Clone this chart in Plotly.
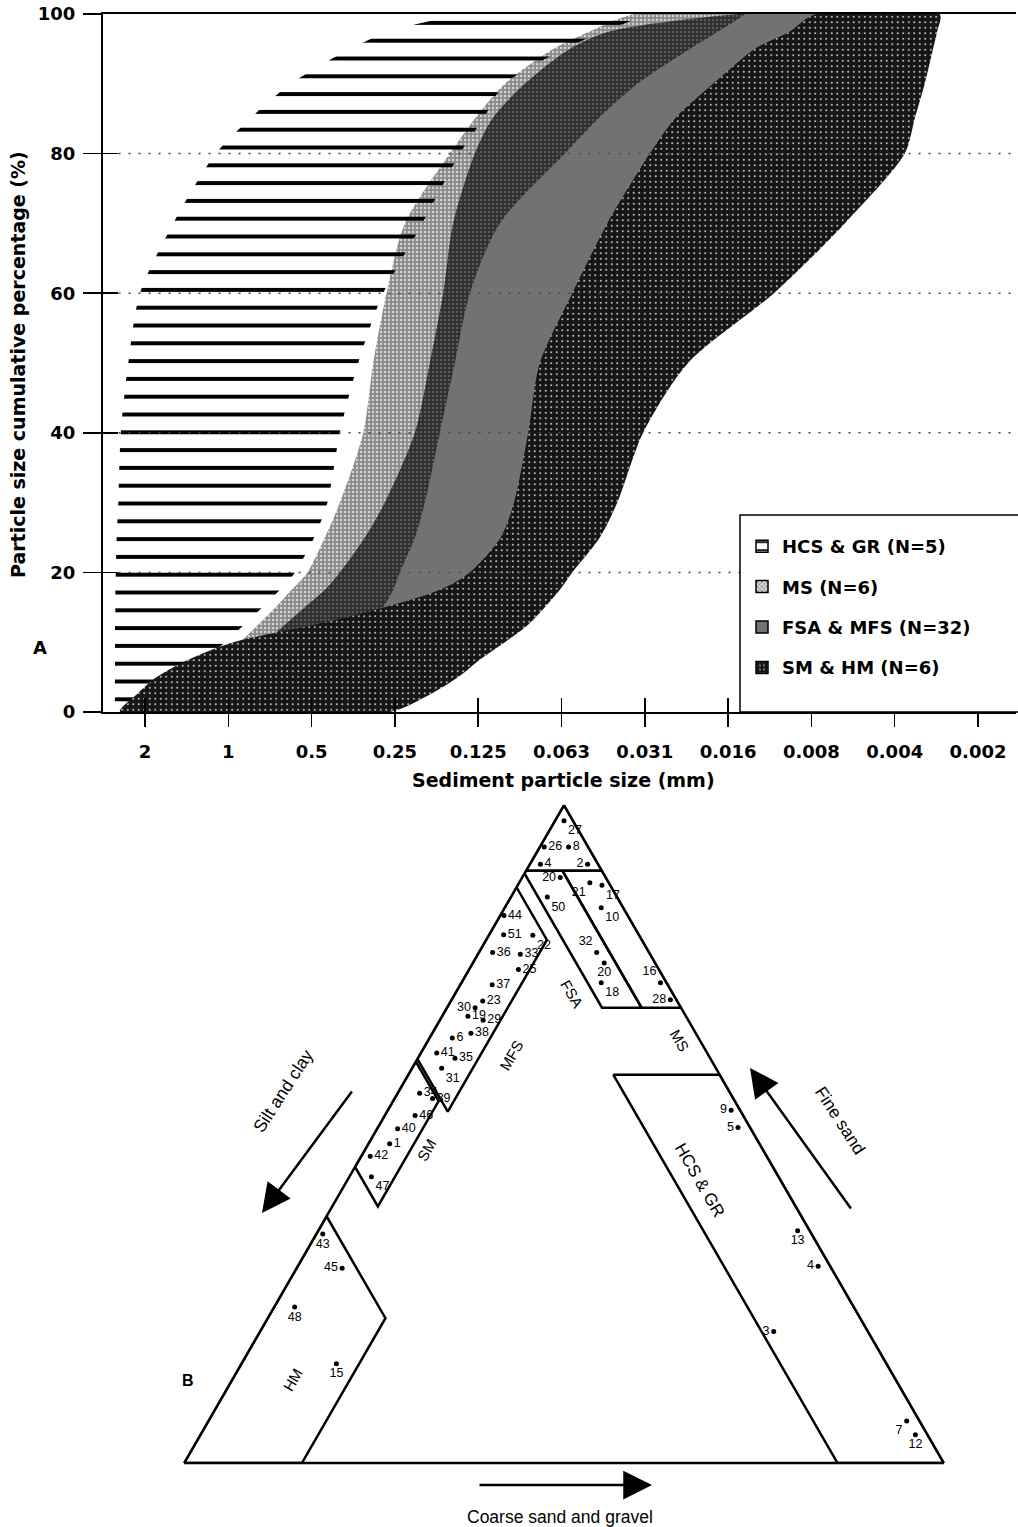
import plotly.graph_objects as go

W, H = 1018, 1527
FONT = "DejaVu Sans"
TFONT = "Liberation Sans"

# ---------------- Panel A: cumulative grain-size envelopes ----------------
# cumulative percentage levels
PCT = [0, 2.5, 5, 7.5, 10, 12.5, 15, 17.5, 20, 25, 30, 40, 50, 60, 70, 80, 85, 90, 95, 97.5, 100]
# particle size in phi units (phi = -log2(d, mm)); coarse and fine envelope of each group
HCS_COARSE = [-1.34, -1.36, -1.36, -1.36, -1.36, -1.36, -1.355, -1.355, -1.35, -1.34, -1.32,
              -1.29, -1.20, -1.06, -0.66, -0.15, 0.26, 0.75, 1.46, 1.94, 2.90]
HCS_FINE = [-0.94, -0.76, -0.52, -0.28, -0.04, 0.19, 0.41, 0.62, 0.80, 1.03, 1.19,
            1.34, 1.56, 1.86, 2.33, 2.78, 3.06, 3.32, 4.04, 4.50, 5.00]
MS_COARSE = [-0.64, -0.46, -0.28, -0.08, 0.14, 0.36, 0.57, 0.76, 0.95, 1.16, 1.34,
             1.62, 1.74, 1.90, 2.12, 2.66, 2.96, 3.32, 3.90, 4.34, 4.88]
MS_FINE = [0.80, 0.98, 1.16, 1.34, 1.52, 1.70, 1.86, 1.98, 2.06, 2.24, 2.36,
           2.54, 2.72, 2.90, 3.26, 4.04, 4.44, 4.91, 5.54, 5.88, 6.20]
FSA_COARSE = [-0.40, -0.22, -0.04, 0.20, 0.44, 0.68, 0.92, 1.16, 1.34, 1.64, 1.88,
              2.24, 2.42, 2.58, 2.70, 2.96, 3.17, 3.56, 4.10, 4.58, 6.14]
FSA_FINE = [0.6, 0.9, 1.2, 1.6, 2.0, 2.5, 2.9, 3.2, 3.5, 3.8, 4.0,
            4.2, 4.5, 5.2, 5.8, 6.4, 6.7, 7.0, 7.3, 7.6, 7.8]
SM_COARSE = [-1.30, -1.10, -0.86, -0.48, 0.06, 1.04, 1.88, 2.54, 2.90, 3.27, 3.43,
             3.60, 3.74, 4.13, 4.55, 5.06, 5.36, 5.82, 6.32, 6.74, 7.05]
SM_FINE = [1.94, 2.42, 2.76, 3.02, 3.32, 3.60, 3.80, 3.98, 4.13, 4.46, 4.67,
           4.98, 5.52, 6.55, 7.40, 8.12, 8.24, 8.36, 8.46, 8.51, 8.54]

GROUPS = ["HCS & GR (N=5)", "MS (N=6)", "FSA & MFS (N=32)", "SM & HM (N=6)"]

TICK_PHI = [-1, 0, 1, 2, 3, 4, 5, 6, 7, 8, 9]
TICK_MM = ["2", "1", "0.5", "0.25", "0.125", "0.063", "0.031", "0.016", "0.008", "0.004", "0.002"]
Y_TICKS = [0, 20, 40, 60, 80, 100]
GRID_Y = [20, 40, 60, 80]

# ---------------- Panel B: ternary diagram ----------------
# vertices as (fine sand, silt and clay, coarse sand and gravel) in %
REG_APEX = [(100, 0, 0), (90, 10, 0), (90, 0, 10)]
REG_MS = [(90, 0, 10), (90, 5.2, 4.8), (69.2, 5.2, 25.6), (69.2, 0, 30.8)]
REG_FSA = [(90, 10, 0), (90, 5.2, 4.8), (69.2, 5.2, 25.6), (69.2, 10.4, 20.4), (89.6, 10.4, 0)]
REG_MFS = [(87.5, 12.5, 0), (79.5, 12.5, 8), (53.4, 38.6, 8), (61.4, 38.6, 0)]
REG_SM = [(61, 39, 0), (55, 39, 6), (39, 55, 6), (45, 55, 0)]
REG_HM = [(37.5, 62.5, 0), (22, 62.5, 15.5), (0, 84.5, 15.5), (0, 100, 0)]
REG_HCS = [(59, 0, 41), (59, 14, 27), (0, 14, 86), (0, 0, 100)]

SAMPLE_ID = ["27", "26", "8", "4", "2", "20", "50", "21", "17", "10", "32", "20", "18", "16", "28",
             "44", "51", "22", "36", "33", "25", "37", "23", "30", "19", "29", "6", "38", "41", "35", "31",
             "34", "39", "46", "40", "1", "42", "47",
             "43", "45", "48", "15",
             "9", "5", "13", "4", "3", "7", "12"]
SAMPLE_FINE = [97.6, 93.6, 93.6, 91.0, 91.0, 89.0, 86.0, 88.2, 87.8, 84.4, 77.6, 76.0, 73.0, 73.0, 70.4,
               83.2, 80.3, 80.2, 77.6, 77.3, 75.0, 72.7, 70.2, 69.2, 67.9, 67.3, 64.6, 65.3, 62.3, 61.5, 60.0,
               56.2, 55.4, 52.8, 50.8, 48.5, 46.6, 43.5,
               34.8, 29.6, 23.7, 15.1,
               53.6, 51.0, 35.3, 29.9, 20.0, 6.4, 4.3]
SAMPLE_SILT = [1.2, 5.8, 2.6, 7.6, 1.4, 6.0, 9.2, 2.5, 1.1, 2.9, 6.9, 6.7, 8.6, 0.8, 0.8,
               16.3, 17.8, 14.0, 20.6, 17.1, 18.5, 23.1, 25.6, 27.1, 28.7, 27.0, 32.4, 29.6, 35.6, 33.6, 36.1,
               40.9, 39.6, 43.2, 46.5, 48.7, 52.2, 53.6,
               64.35, 64.4, 73.6, 72.4,
               1.2, 1.6, 1.6, 1.6, 12.4, 1.7, 1.6]
SAMPLE_COARSE = [1.2, 0.6, 3.8, 1.4, 7.6, 5.0, 4.8, 9.3, 11.1, 12.7, 15.5, 17.3, 18.4, 26.2, 28.8,
                 0.5, 1.9, 5.8, 1.8, 5.6, 6.5, 4.2, 4.2, 3.7, 3.4, 5.7, 3.0, 5.1, 2.1, 4.9, 3.9,
                 2.9, 5.0, 4.0, 2.7, 2.8, 1.2, 2.9,
                 0.85, 6.0, 2.7, 12.5,
                 45.2, 47.4, 63.1, 68.5, 67.6, 91.9, 94.1]

# label placement (style only)
LABEL_POS = ["bottom right", "middle right", "middle right", "middle right", "middle left", "middle left",
             "bottom right", "bottom left", "bottom right", "bottom right", "top left", "bottom center",
             "bottom right", "top left", "middle left",
             "middle right", "middle right", "bottom right", "middle right", "middle right", "middle right",
             "middle right", "middle right", "middle left", "middle right", "middle right", "middle right",
             "middle right", "middle right", "middle right", "bottom right",
             "middle right", "middle right", "middle right", "middle right", "middle right", "middle right",
             "bottom right",
             "bottom center", "middle left", "bottom center", "bottom center",
             "middle left", "middle left", "bottom center", "middle left", "middle left", "bottom left",
             "bottom center"]


def px(x):
    return x / W


def py(y):
    return 1 - y / H


def band(coarse, fine):
    xs = list(coarse) + list(fine)[::-1] + [coarse[0]]
    ys = list(PCT) + list(PCT)[::-1] + [PCT[0]]
    return xs, ys


fig = go.Figure()
LINE = dict(width=0, shape="spline", smoothing=0.8)

# --- bands (drawn bottom to top) ---
x, y = band(MS_COARSE, MS_FINE)
fig.add_trace(go.Scatter(x=x, y=y, fill="toself", mode="lines", line=LINE,
                         fillpattern=dict(shape=".", bgcolor="#8a8a8a", fgcolor="#d4d4d4", size=4, solidity=0.3),
                         showlegend=False, hoverinfo="skip"))
x, y = band(FSA_COARSE, FSA_FINE)
fig.add_trace(go.Scatter(x=x, y=y, fill="toself", mode="lines", line=LINE,
                         fillcolor="#727272", showlegend=False, hoverinfo="skip"))
x, y = band(FSA_COARSE, MS_FINE)
fig.add_trace(go.Scatter(x=x, y=y, fill="toself", mode="lines", line=LINE,
                         fillpattern=dict(shape=".", bgcolor="#2e2e2e", fgcolor="#5a5a5a", size=4, solidity=0.3),
                         showlegend=False, hoverinfo="skip"))
x, y = band(HCS_COARSE, HCS_FINE)
fig.add_trace(go.Scatter(x=x, y=y, fill="toself", mode="lines", line=LINE,
                         fillpattern=dict(shape="-", bgcolor="rgba(0,0,0,0)", fgcolor="black", size=17.8,
                                          solidity=0.22),
                         showlegend=False, hoverinfo="skip"))
x, y = band(SM_COARSE, SM_FINE)
fig.add_trace(go.Scatter(x=x, y=y, fill="toself", mode="lines", line=LINE,
                         fillpattern=dict(shape=".", bgcolor="#161616", fgcolor="#d8d8d8", size=5.5, solidity=0.1),
                         showlegend=False, hoverinfo="skip"))

# --- legend entries ---
leg_styles = [
    dict(color="white", pattern=dict(shape="-", fgcolor="black", bgcolor="white", size=12, solidity=0.22)),
    dict(color="#bbbbbb", pattern=dict(shape="x", fgcolor="#555555", bgcolor="#dddddd", size=4, solidity=0.3)),
    dict(color="#727272"),
    dict(color="#161616", pattern=dict(shape=".", fgcolor="#cccccc", bgcolor="#161616", size=5, solidity=0.15)),
]
for i, (name, st) in enumerate(zip(GROUPS, leg_styles)):
    fig.add_trace(go.Bar(x=[None], y=[None], name=name, legendgroup=f"g{i}", legendrank=i + 1,
                         marker=dict(line=dict(color="black", width=1.5), **st), showlegend=True))

# dummy trace for the inside-tick overlay axes
fig.add_trace(go.Scatter(x=[None], y=[None], xaxis="x2", yaxis="y2", showlegend=False, hoverinfo="skip"))


# --- ternary ---
def region(verts):
    vv = list(verts) + [verts[0]]
    return go.Scatterternary(a=[v[0] for v in vv], b=[v[1] for v in vv], c=[v[2] for v in vv],
                             mode="lines", line=dict(color="black", width=2.5), showlegend=False,
                             hoverinfo="skip")


for reg in [REG_APEX, REG_MS, REG_FSA, REG_MFS, REG_SM, REG_HM, REG_HCS]:
    fig.add_trace(region(reg))

fig.add_trace(go.Scatterternary(a=SAMPLE_FINE, b=SAMPLE_SILT, c=SAMPLE_COARSE, text=SAMPLE_ID,
                                mode="markers+text", textposition=LABEL_POS, cliponaxis=False,
                                marker=dict(size=5, color="black"),
                                textfont=dict(family=TFONT, size=12.5, color="black"),
                                showlegend=False, hoverinfo="skip"))

axis_tern = dict(showline=True, linecolor="black", linewidth=2.5, showgrid=False, showticklabels=False,
                 ticks="", title=dict(text=""), min=0)

bold_t = dict(family=FONT, size=19, color="black", weight="bold")
bold = dict(family=FONT, size=18, color="black", weight="bold")

shapes = []
for g in GRID_Y:
    shapes.append(dict(type="line", xref="x domain", yref="y", x0=0.017, x1=1, y0=g, y1=g, layer="above",
                       line=dict(color="#444444", width=1.5, dash="2px,8px")))
# legend frame
shapes.append(dict(type="rect", xref="paper", yref="paper", x0=px(740), x1=px(1020), y0=py(712), y1=py(515),
                   layer="above", fillcolor="white", line=dict(color="black", width=1.5)))

annotations = [
    dict(text="Particle size cumulative percentage (%)", x=px(18), y=py(365), xref="paper", yref="paper",
         textangle=-90, showarrow=False, font=bold_t, xanchor="center", yanchor="middle"),
    dict(text="Sediment particle size (mm)", x=px(563), y=py(780), xref="paper", yref="paper",
         showarrow=False, font=bold_t, xanchor="center", yanchor="middle"),
    dict(text="A", x=px(40), y=py(648), xref="paper", yref="paper", showarrow=False, font=bold,
         xanchor="center", yanchor="middle"),
    dict(text="B", x=px(188), y=py(1380), xref="paper", yref="paper", showarrow=False,
         font=dict(family=TFONT, size=16, color="black", weight="bold"), xanchor="center", yanchor="middle"),
]

for txt, xx, yy, ang, fs in [("SM", 426, 1150, -60, 15), ("MFS", 511, 1055, -60, 15), ("FSA", 572, 993, 60, 15),
                             ("MS", 680, 1040, 60, 15), ("HCS & GR", 700, 1180, 60, 17), ("HM", 292, 1380, -60, 15),
                             ("Silt and clay", 283, 1091, -57, 17.5), ("Fine sand", 840, 1120, 57, 17.5),
                             ("Coarse sand and gravel", 560, 1517, 0, 17.5)]:
    annotations.append(dict(text=txt, x=px(xx), y=py(yy), xref="paper", yref="paper", showarrow=False,
                            textangle=ang, font=dict(family=TFONT, size=fs, color="black"),
                            xanchor="center", yanchor="middle"))

for (hx, hy, tx, ty) in [(262, 1213, 353, 1090), (750, 1068, 852, 1210), (652, 1485, 478, 1485)]:
    annotations.append(dict(text="", x=px(hx), y=py(hy), xref="paper", yref="paper", showarrow=True,
                            ax=tx - hx, ay=ty - hy, axref="pixel", ayref="pixel",
                            arrowhead=2, arrowsize=2.3, arrowwidth=2.5, arrowcolor="black"))

fig.update_layout(
    width=W, height=H, template="none",
    margin=dict(l=0, r=0, t=0, b=0),
    paper_bgcolor="white", plot_bgcolor="white",
    font=dict(family=FONT, color="black"),
    barmode="overlay",
    xaxis=dict(domain=[px(103), px(1016)], range=[-1.504, 9.456], tickmode="array", tickvals=TICK_PHI,
               ticktext=TICK_MM, ticks="outside", ticklen=13, tickwidth=1.5, tickcolor="black",
               showline=True, linecolor="black", linewidth=2, mirror=True, showgrid=False, zeroline=False,
               tickfont=bold, ticklabelstandoff=9, anchor="y", automargin=False, fixedrange=True),
    yaxis=dict(domain=[py(712), py(14)], range=[0, 100], tickmode="array", tickvals=Y_TICKS,
               ticks="outside", ticklen=18, tickwidth=1.5, tickcolor="black",
               showline=True, linecolor="black", linewidth=2, showgrid=False, zeroline=False,
               tickfont=bold, ticklabelstandoff=4, anchor="x", automargin=False, fixedrange=True),
    xaxis2=dict(overlaying="x", matches="x", anchor="y", side="bottom", tickmode="array", tickvals=TICK_PHI,
                ticks="inside", ticklen=14, tickwidth=1.5, tickcolor="black", showticklabels=False,
                showline=False, showgrid=False, zeroline=False, automargin=False),
    yaxis2=dict(overlaying="y", matches="y", anchor="x", side="left", tickmode="array", tickvals=Y_TICKS,
                ticks="inside", ticklen=15, tickwidth=1.5, tickcolor="black", showticklabels=False,
                showline=False, showgrid=False, zeroline=False, automargin=False),
    ternary=dict(domain=dict(x=[px(184), px(944)], y=[py(1463), py(805)]), sum=100, bgcolor="white",
                 aaxis=axis_tern, baxis=axis_tern, caxis=axis_tern),
    legend=dict(x=px(742), y=py(528), xanchor="left", yanchor="top", bgcolor="rgba(0,0,0,0)",
                borderwidth=0, font=dict(family=FONT, size=18, color="black", weight="bold"),
                tracegroupgap=14, traceorder="grouped"),
    shapes=shapes,
    annotations=annotations,
)

fig.write_html("out.html", config={"displayModeBar": False, "staticPlot": True},
               post_script="document.body.style.margin='0px';")
